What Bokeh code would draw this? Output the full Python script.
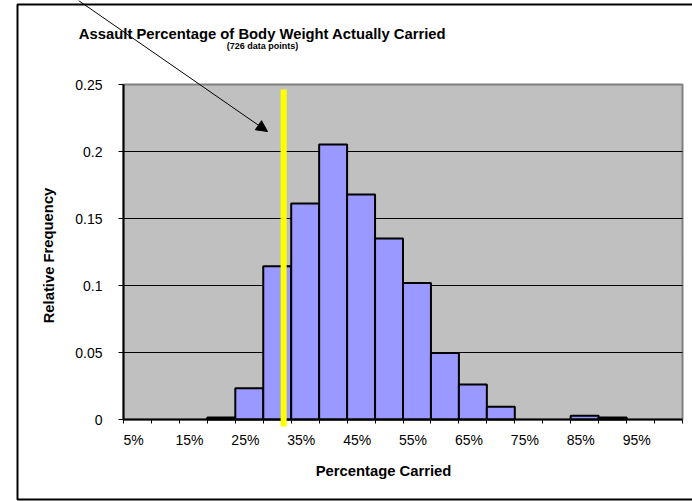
from bokeh.plotting import figure
from bokeh.models import (Range1d, FixedTicker, CustomJSTickFormatter, Label, Arrow,
                          NormalHead, BoxAnnotation, ColumnDataSource)
from bokeh.embed import file_html
from bokeh.resources import INLINE

# ---------------- data ----------------
categories = ["5%", "10%", "15%", "20%", "25%", "30%", "35%", "40%", "45%", "50%",
              "55%", "60%", "65%", "70%", "75%", "80%", "85%", "90%", "95%", "100%"]
rel_freq = [0, 0, 0, 0.0014, 0.0234, 0.1143, 0.1612, 0.2052, 0.1680, 0.1350,
            0.1019, 0.0496, 0.0262, 0.0096, 0, 0, 0.0028, 0.0014, 0, 0]
y_ticks = [0, 0.05, 0.1, 0.15, 0.2, 0.25]
title_text = "Assault Percentage of Body Weight Actually Carried"
subtitle_text = "(726 data points)"
x_title = "Percentage Carried"
y_title = "Relative Frequency"
threshold_x = 5.73          # yellow marker position (category units)
threshold_y = (-0.0052, 0.2463)

# ---------------- layout / styles ----------------
W, H = 692, 501
PA_LEFT, PA_RIGHT, PA_TOP, PA_BOTTOM = 123, 682, 84, 419   # plot-area pixels
FONT = "Liberation Sans"
BAR_COLOR = "#9999FF"
PLOT_BG = "#C0C0C0"
LABEL_SHIFT = -0.14

n = len(categories)
ymax = y_ticks[-1]
sx = (PA_RIGHT - PA_LEFT) / n
sy = (PA_BOTTOM - PA_TOP) / ymax
x_range = Range1d(-PA_LEFT / sx, n + (W - PA_RIGHT) / sx)
y_range = Range1d(-(H - PA_BOTTOM) / sy, ymax + PA_TOP / sy)

p = figure(width=W, height=H, x_range=x_range, y_range=y_range,
           output_backend="svg", toolbar_location=None,
           min_border=0, min_border_left=0, min_border_right=0,
           min_border_top=0, min_border_bottom=0)
p.background_fill_color = "white"
p.border_fill_color = "white"
p.outline_line_color = None
p.xgrid.visible = False
p.ygrid.visible = False

# plot area background
p.add_layout(BoxAnnotation(left=0, right=n, bottom=0, top=ymax, level="image",
                           fill_color=PLOT_BG, fill_alpha=1,
                           line_color="#808080", line_width=2, line_alpha=1))
# horizontal gridlines
grid_vals = y_ticks[1:-1]
gl = p.segment(x0=[0] * len(grid_vals), x1=[n] * len(grid_vals), y0=grid_vals, y1=grid_vals,
               line_color="black", line_width=1)
gl.level = "underlay"

# bars
idx = [i for i, v in enumerate(rel_freq) if v > 0]
src = ColumnDataSource(dict(x=[i + 0.5 for i in idx], top=[rel_freq[i] for i in idx]))
p.vbar(x="x", top="top", bottom=0, width=1, source=src,
       fill_color=BAR_COLOR, line_color="black", line_width=2)

# x axis
label_pos = [i + 0.5 + LABEL_SHIFT for i in range(0, n, 2)]
xa = p.xaxis[0]
xa.fixed_location = 0
xa.bounds = (0, n)
xa.ticker = FixedTicker(ticks=label_pos, minor_ticks=list(range(0, n + 1)))
xa.formatter = CustomJSTickFormatter(args=dict(labels=categories, shift=LABEL_SHIFT),
                                     code="return labels[Math.round(tick - 0.5 - shift)];")
xa.major_tick_out = 0
xa.major_tick_in = 0
xa.minor_tick_out = 4
xa.minor_tick_in = 0
xa.minor_tick_line_color = "black"
xa.major_label_standoff = 8
xa.axis_line_color = "black"
xa.axis_line_width = 2
xa.major_label_text_font = FONT
xa.major_label_text_font_size = "14px"
xa.major_label_text_color = "black"

# y axis
ya = p.yaxis[0]
ya.fixed_location = 0
ya.bounds = (0, ymax)
ya.ticker = FixedTicker(ticks=y_ticks)
ya.formatter = CustomJSTickFormatter(code="return String(parseFloat(tick.toFixed(2)));")
ya.major_tick_out = 5
ya.major_tick_in = 0
ya.minor_tick_line_color = None
ya.major_tick_line_color = "black"
ya.major_label_standoff = 16
ya.axis_line_color = "black"
ya.axis_line_width = 2
ya.major_label_text_font = FONT
ya.major_label_text_font_size = "14px"
ya.major_label_text_color = "black"

# texts (screen units, origin bottom-left of canvas)
def lab(x, y, text, size, angle=0.0):
    p.add_layout(Label(x=x, y=H - y, x_units="screen", y_units="screen", text=text,
                       text_font=FONT, text_font_style="bold", text_font_size=size,
                       text_align="center", text_baseline="middle", angle=angle,
                       text_color="black"))

lab(262, 33, title_text, "14.8px")
lab(262, 45, subtitle_text, "9px")
lab(383, 470, x_title, "14.8px")
lab(48, 255, y_title, "14.8px", angle=1.5708)

# yellow marker
p.add_layout(Arrow(end=None, x_start=threshold_x, y_start=threshold_y[0],
                   x_end=threshold_x, y_end=threshold_y[1],
                   line_color="#FFFF00", line_width=6))
# black pointer arrow
p.add_layout(Arrow(x_start=78, y_start=H - 0, x_end=267, y_end=H - 131,
                   start_units="screen", end_units="screen",
                   line_color="black", line_width=1,
                   end=NormalHead(size=11, fill_color="black", line_color="black")))
# outer chart border
p.add_layout(BoxAnnotation(left=17, right=W + 30, top=H - 4, bottom=H - 499,
                           left_units="screen", right_units="screen",
                           top_units="screen", bottom_units="screen",
                           fill_color=None, fill_alpha=0, line_color="black",
                           line_width=2, line_alpha=1))

open("out.html", "w").write(file_html(p, INLINE))
